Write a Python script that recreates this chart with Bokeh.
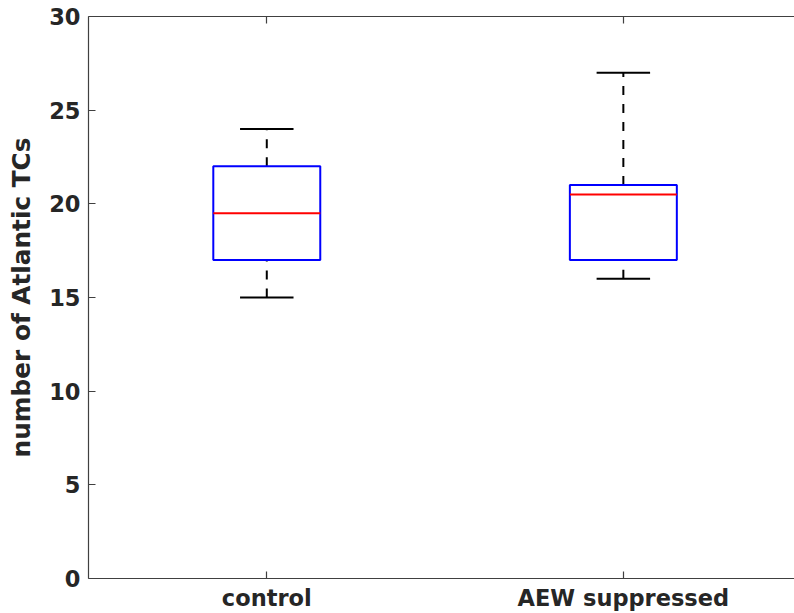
from bokeh.plotting import figure
from bokeh.models import Range1d, FixedTicker, LinearAxis, ColumnDataSource
from bokeh.embed import file_html
from bokeh.resources import INLINE

# ---- data ----
groups = ["control", "AEW suppressed"]
positions = [1, 2]
whisker_low = [15, 16]
q1 = [17, 17]
median = [19.5, 20.5]
q3 = [22, 21]
whisker_high = [24, 27]
y_ticks = [0, 5, 10, 15, 20, 25, 30]

box_half = 0.15
cap_half = 0.075

src = ColumnDataSource(dict(
    x=positions,
    left=[p - box_half for p in positions],
    right=[p + box_half for p in positions],
    cap_l=[p - cap_half for p in positions],
    cap_r=[p + cap_half for p in positions],
    lo=whisker_low, q1=q1, med=median, q3=q3, hi=whisker_high,
))

FONT = "DejaVu Sans"
TXT = "#262626"
AX = "#404040"

p = figure(width=794, height=613, output_backend="svg", toolbar_location=None,
           x_range=Range1d(0.5, 2.48), y_range=Range1d(0, 30),
           min_border_left=88, min_border_right=0, min_border_top=16,
           min_border_bottom=35, x_axis_location=None, y_axis_location=None)
p.outline_line_color = None
p.grid.visible = False
p.background_fill_color = "white"
p.border_fill_color = "white"

# whiskers (dashed), drawn upward
p.segment(x0="x", y0="lo", x1="x", y1="q1", source=src, line_color="black",
          line_width=2, line_dash="9 9")
p.segment(x0="x", y0="q3", x1="x", y1="hi", source=src, line_color="black",
          line_width=2, line_dash="9 9")
# caps
p.segment(x0="cap_l", y0="lo", x1="cap_r", y1="lo", source=src, line_color="black", line_width=2)
p.segment(x0="cap_l", y0="hi", x1="cap_r", y1="hi", source=src, line_color="black", line_width=2)
# boxes
p.quad(left="left", right="right", bottom="q1", top="q3", source=src,
       fill_color=None, line_color="#0000ff", line_width=2)
# medians
p.segment(x0="left", y0="med", x1="right", y1="med", source=src, line_color="#ff0000", line_width=2)

def style(ax, labels=True):
    ax.axis_line_color = AX
    ax.axis_line_width = 1.2
    ax.major_tick_line_color = AX
    ax.major_tick_line_width = 1.2
    ax.major_tick_in = 7
    ax.major_tick_out = 0
    ax.minor_tick_line_color = None
    ax.major_label_text_font = FONT
    ax.major_label_text_font_style = "bold"
    ax.major_label_text_color = TXT
    ax.major_label_text_font_size = "22.5px" if labels else "0px"

xb = LinearAxis(ticker=FixedTicker(ticks=positions),
                major_label_overrides={pos: g for pos, g in zip(positions, groups)})
style(xb)
xb.major_label_standoff = 6
p.add_layout(xb, "below")

xt = LinearAxis(ticker=FixedTicker(ticks=positions),
                major_label_overrides={pos: "" for pos in positions})
style(xt, labels=False)
xt.major_label_standoff = 0
p.add_layout(xt, "above")

yl = LinearAxis(ticker=FixedTicker(ticks=y_ticks), axis_label="number of Atlantic TCs")
style(yl)
yl.major_label_standoff = 8
yl.axis_label_text_font = FONT
yl.axis_label_text_font_style = "bold"
yl.axis_label_text_font_size = "24.75px"
yl.axis_label_text_color = TXT
yl.axis_label_standoff = 10
p.add_layout(yl, "left")

open("out.html", "w").write(file_html(p, INLINE))
